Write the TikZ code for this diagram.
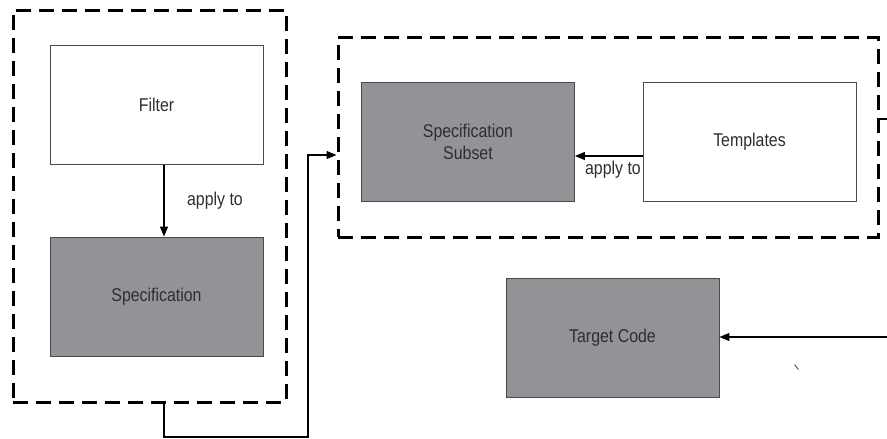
\documentclass[tikz,border=0pt]{standalone}
\usepackage{fontspec}
\setmainfont{Liberation Sans}[FakeStretch=0.86]
\usetikzlibrary{arrows.meta}
\definecolor{boxgray}{HTML}{929396}
\definecolor{edgegray}{HTML}{4A4A4A}
\definecolor{txtgray}{HTML}{2E2E2E}
\tikzset{
  box/.style={draw=edgegray, line width=0.9pt, text=txtgray, align=center,
              minimum width=213pt, minimum height=119pt, inner sep=0pt,
              font=\fontsize{18.5}{22}\selectfont},
  plainbox/.style={box, fill=white},
  shadedbox/.style={box, fill=boxgray},
  group/.style={draw=black, line width=3pt, dash pattern=on 15pt off 8pt,
                inner sep=0pt},
  conn/.style={draw=black, line width=1.3pt},
  arr/.style={conn, -{Triangle[length=10pt, width=8pt]}},
  lbl/.style={text=txtgray, font=\fontsize{18.5}{22}\selectfont, inner sep=0pt}
}
\begin{document}
\begin{tikzpicture}[x=1pt, y=-1pt]
  \useasboundingbox (0,0) rectangle (887,439);
  % dashed groups
  \node[group, minimum width=273pt, minimum height=392pt] (g1) at (149.5,206) {};
  \node[group, minimum width=540pt, minimum height=200pt] (g2) at (608,137) {};
  % boxes
  \node[plainbox]  (filter)    at (156.5,105)   {Filter};
  \node[shadedbox] (spec)      at (156.5,296.5) {Specification};
  \node[shadedbox] (subset)    at (468,141.5)   {Specification\\Subset};
  \node[plainbox]  (templates) at (749.5,142)   {Templates};
  \node[shadedbox] (target)    at (612.5,337.5) {Target Code};
  % helper coordinates
  \coordinate (xa) at (164,0);
  \coordinate (ylow) at (0,437);
  \coordinate (xb) at (308,0);
  \coordinate (yin) at (0,155);
  \coordinate (yapp) at (0,156);
  \coordinate (outA) at (887,119);
  \coordinate (inB) at (887,337);
  % connectors
  \draw[arr] (filter.south -| xa) -- (spec.north -| xa);
  \node[lbl] (lab1) at (215,201) {apply to};
  \draw[arr] (g1.south -| xa) -- (xa |- ylow) -- (xb |- ylow) -- (xb |- yin) -- (g2.west |- yin);
  \draw[arr] (templates.west |- yapp) -- (subset.east |- yapp);
  \node[lbl, anchor=east] (lab2) at (641,170) {apply to};
  \draw[conn] (g2.east |- outA) -- (outA);
  \draw[arr] (inB) -- (target.east |- inB);
  % small stray mark
  \coordinate (m1) at (794.5,364.5);
  \coordinate (m2) at (798.5,369.5);
  \draw[black, line width=0.6pt] (m1) -- (m2);
\end{tikzpicture}
\end{document}
